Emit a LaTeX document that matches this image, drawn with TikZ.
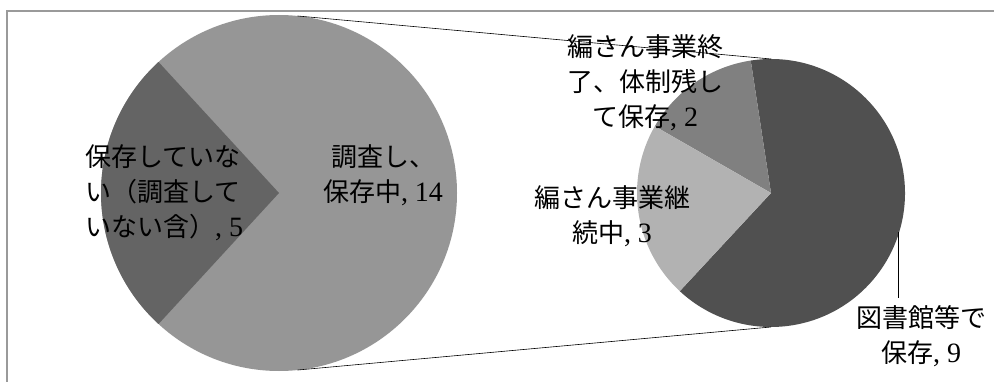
\documentclass[tikz,border=0pt]{standalone}
\usepackage{fontspec}
\newfontfamily\jpf{Noto Sans CJK JP}
\newfontfamily\numf{Liberation Serif}
\newcommand{\nm}[1]{{\fontsize{28}{35}\selectfont\numf #1}}
\usetikzlibrary{calc}
\definecolor{bigLight}{HTML}{969696}
\definecolor{bigDark}{HTML}{646464}
\definecolor{smDark}{HTML}{505050}
\definecolor{smMid}{HTML}{808080}
\definecolor{smLight}{HTML}{B2B2B2}
\definecolor{frameGray}{HTML}{9A9A9A}
\tikzset{
  lbl/.style={inner sep=0pt, font=\fontsize{26}{35}\selectfont\jpf, text=black},
  conn/.style={draw=black, line width=0.6pt},
  leader/.style={draw=black, line width=1pt},
  frameline/.style={draw=frameGray, line width=2pt}
}
\begin{document}
\begin{tikzpicture}[x=1pt,y=1pt]
\useasboundingbox (0,0) rectangle (994,381);
% frame (top and left edges visible)
\draw[frameline] (6.5,-2) -- (6.5,369.5) -- (1000,369.5);
% centres
\coordinate (L) at (279,188);
\coordinate (S) at (771,188);
% large pie
\fill[bigLight] (L) circle[radius=178];
\fill[bigDark] (L) -- ($(L)+(132.6:178)$) arc[start angle=132.6, end angle=227.4, radius=178] -- cycle;
% small pie
\fill[smDark] (S) -- ($(S)+(98.7:134)$) arc[start angle=98.7, end angle=-132.9, radius=134] -- cycle;
\fill[smMid] (S) -- ($(S)+(98.7:134)$) arc[start angle=98.7, end angle=150.1, radius=134] -- cycle;
\fill[smLight] (S) -- ($(S)+(150.1:134)$) arc[start angle=150.1, end angle=227.1, radius=134] -- cycle;
% connector points
\coordinate (Ltop) at ($(L)+(84:178)$);
\coordinate (Lbot) at ($(L)+(-84:178)$);
\coordinate (Stop) at ($(S)+(90:134)$);
\coordinate (Sbot) at ($(S)+(-90:134)$);
\draw[conn] (Ltop) -- (Stop);
\draw[conn] (Lbot) -- (Sbot);
% labels
\node[lbl, anchor=west, align=left] (l5) at (85,188) {保存していな\\い（調査して\\いない含）\nm{, 5}};
\node[lbl, align=center] (l14) at (383,206) {調査し、\\保存中\nm{, 14}};
\node[lbl, align=center] (l2) at (645,298) {編さん事業終\\了、体制残し\\て保存\nm{, 2}};
\node[lbl, align=center] (l3) at (612,164.5) {編さん事業継\\続中\nm{, 3}};
\node[lbl, align=center] (l9) at (921,44.5) {図書館等で\\保存\nm{, 9}};
% leader line
\coordinate (lead) at (898,149);
\draw[leader] (lead) -- (lead |- 0,83);
\end{tikzpicture}
\end{document}
